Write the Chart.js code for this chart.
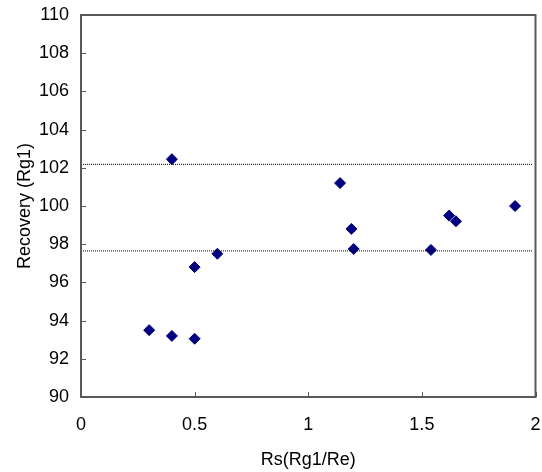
<!DOCTYPE html>
<html>
<head>
<meta charset="utf-8">
<script src="https://cdn.jsdelivr.net/npm/chart.js@4/dist/chart.umd.min.js"></script>
<style>
  html, body { margin: 0; padding: 0; background: #fff; }
  #wrap { width: 542px; height: 472px; }
</style>
</head>
<body>
<div id="wrap"><canvas id="recChart" width="542" height="472"></canvas></div>
<script>
// values
const rsValues = [0.3, 0.4, 0.4, 0.5, 0.5, 0.6, 1.14, 1.19, 1.2, 1.54, 1.62, 1.65, 1.91];
const recoveryValues = [93.5, 102.45, 93.2, 93.05, 96.8, 97.5, 101.2, 98.8, 97.75, 97.7, 99.5, 99.2, 100];
const upperLimit = 102.18;
const lowerLimit = 97.65;
const xRange = [0, 2];
const yRange = [90, 110];

const axisColor = '#595959';
const fontSpec = { family: 'Arial, "Liberation Sans", sans-serif', size: 18 };

const points = rsValues.map((x, i) => ({ x: x, y: recoveryValues[i] }));
const limitLine = y => [{ x: xRange[0], y: y }, { x: 1.985, y: y }];

// fixed box sizes, no extra label padding
const fixSize = (w, h) => s => {
  if (w) s.width = w;
  if (h) s.height = h;
  s.paddingLeft = s.paddingRight = s.paddingTop = s.paddingBottom = 0;
};

// box around plot + inward tick marks
const frame = {
  id: 'frame',
  afterDraw(chart) {
    const { ctx, chartArea: a, scales } = chart;
    ctx.save();
    ctx.strokeStyle = axisColor;
    ctx.lineWidth = 2;
    ctx.strokeRect(a.left, a.top, a.right - a.left, a.bottom - a.top);
    ctx.beginPath();
    scales.x.ticks.forEach(t => {
      const px = Math.round(scales.x.getPixelForValue(t.value)) + 0.5;
      ctx.moveTo(px, a.bottom);
      ctx.lineTo(px, a.bottom - 5);
    });
    scales.y.ticks.forEach(t => {
      const py = Math.round(scales.y.getPixelForValue(t.value)) + 0.5;
      ctx.moveTo(a.left, py);
      ctx.lineTo(a.left + 5, py);
    });
    ctx.lineWidth = 1;
    ctx.stroke();
    ctx.restore();
  }
};

new Chart(document.getElementById('recChart'), {
  type: 'scatter',
  data: {
    datasets: [
      {
        type: 'line',
        data: limitLine(upperLimit),
        borderColor: '#000',
        borderWidth: 1,
        borderDash: [1, 1],
        pointRadius: 0,
        fill: false
      },
      {
        type: 'line',
        data: limitLine(lowerLimit),
        borderColor: '#000',
        borderWidth: 1,
        borderDash: [1, 1],
        pointRadius: 0,
        fill: false
      },
      {
        label: 'Recovery',
        data: points,
        pointStyle: 'rectRot',
        pointRadius: 5.5,
        pointHoverRadius: 5.5,
        backgroundColor: '#000080',
        borderColor: '#000080',
        borderWidth: 1
      }
    ]
  },
  options: {
    responsive: false,
    animation: false,
    layout: { padding: { top: 15, right: 5, left: 0, bottom: 0 } },
    plugins: { legend: { display: false }, tooltip: { enabled: false } },
    scales: {
      x: {
        type: 'linear',
        min: xRange[0],
        max: xRange[1],
        afterFit: fixSize(0, 75),
        ticks: { stepSize: 0.5, color: '#000', font: fontSpec, padding: 17, maxRotation: 0,
                 callback: v => String(v) },
        grid: { drawOnChartArea: false, drawTicks: false },
        border: { color: axisColor, width: 2 },
        title: { display: true, text: 'Rs(Rg1/Re)', color: '#000', font: fontSpec, padding: { top: 0, bottom: 1 } }
      },
      y: {
        min: yRange[0],
        max: yRange[1],
        afterFit: fixSize(81, 0),
        ticks: { stepSize: 2, color: '#000', font: fontSpec, padding: 12 },
        grid: { drawOnChartArea: false, drawTicks: false },
        border: { color: axisColor, width: 2 },
        title: { display: true, text: 'Recovery (Rg1)', color: '#000', font: fontSpec, padding: { top: 14, bottom: 0 } }
      }
    }
  },
  plugins: [frame]
});
</script>
</body>
</html>
